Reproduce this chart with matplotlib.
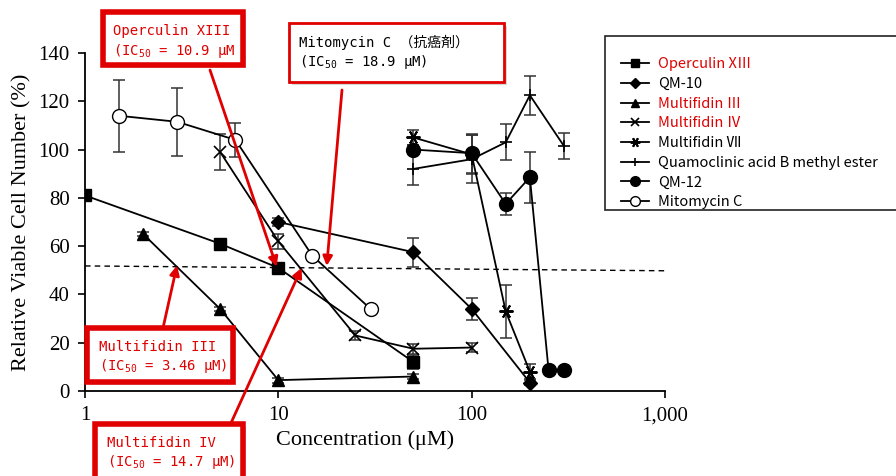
import matplotlib.pyplot as plt
from matplotlib.patches import Rectangle
from matplotlib.lines import Line2D

# concentration (uM) / relative viable cell number (%) / error for each compound
operculin_x = [1, 5, 10, 50]
operculin_y = [81, 61, 51, 12]
operculin_err = [1, 2, 2, 3]

qm10_x = [10, 50, 100, 200]
qm10_y = [70, 57.5, 34, 3.5]
qm10_err = [1.5, 6, 4.5, 1]

mf3_x = [2, 5, 10, 50]
mf3_y = [65, 34, 4.5, 6]
mf3_err = [1, 1, 1, 1]

mf4_x = [5, 10, 25, 50, 100]
mf4_y = [99, 62, 23, 17.5, 18]
mf4_err = [7.5, 3, 2, 2, 2]

mf7_x = [50, 100, 150, 200]
mf7_y = [105, 98, 33, 8]
mf7_err = [3, 8, 11, 3]

quam_x = [50, 100, 150, 200, 300]
quam_y = [92, 96, 103, 122.5, 101.5]
quam_err = [6.5, 10, 7.5, 8, 5.5]

qm12_x = [50, 100, 150, 200, 250, 300]
qm12_y = [100, 98.5, 77.5, 88.5, 8.5, 8.5]
qm12_err = [2, 8, 4.5, 10.5, 1, 1]

mito_x = [1.5, 3, 6, 15, 30]
mito_y = [114, 111.5, 104, 56, 34]
mito_err = [15, 14, 7, 1, 1]

# 50 % reference line
half_x = [1, 1000]
half_y = [51.8, 49.8]

x_ticks = [1, 10, 100, 1000]
x_ticklabels = ['1', '10', '100', '1,000']
y_ticks = [0, 20, 40, 60, 80, 100, 120, 140]

W, H = 896, 476
RED = '#e00000'
serif = ['Liberation Serif', 'DejaVu Serif']
mono = ['DejaVu Sans Mono', 'Noto Sans CJK JP']
sans = ['Noto Sans CJK JP', 'DejaVu Sans']


def fig_frac(px, py):
    # pixel position measured from the top-left corner -> figure fraction
    return px / W, 1 - py / H


fig = plt.figure(figsize=(W / 100, H / 100), dpi=100)
ax = fig.add_axes([85 / W, (H - 391) / H, 580 / W, 338 / H])

series = [
    ('Operculin XⅢ', operculin_x, operculin_y, operculin_err, dict(marker='s', markersize=8.5, mfc='black')),
    ('QM-10', qm10_x, qm10_y, qm10_err, dict(marker='D', markersize=7, mfc='black')),
    ('Multifidin Ⅲ', mf3_x, mf3_y, mf3_err, dict(marker='^', markersize=9, mfc='black')),
    ('Multifidin Ⅳ', mf4_x, mf4_y, mf4_err, dict(marker='x', markersize=8, mew=1.2)),
    ('Multifidin Ⅶ', mf7_x, mf7_y, mf7_err, dict(marker=(6, 2, 30), markersize=10, mew=1.4)),
    ('Quamoclinic acid B methyl ester', quam_x, quam_y, quam_err, dict(marker='+', markersize=9, mew=1.2)),
    ('QM-12', qm12_x, qm12_y, qm12_err, dict(marker='o', markersize=10, mfc='black')),
    ('Mitomycin C', mito_x, mito_y, mito_err, dict(marker='o', markersize=10, mfc='white')),
]
red_labels = {'Operculin XⅢ', 'Multifidin Ⅲ', 'Multifidin Ⅳ'}

handles = []
for label, xs, ys, err, style in series:
    ax.errorbar(xs, ys, yerr=err, fmt='none', ecolor='#333333', elinewidth=1.1, capsize=4, capthick=1.1, zorder=2)
    ax.plot(xs, ys, color='black', lw=1.3, mec='black', zorder=3, **style)
    handles.append(Line2D([], [], color='black', lw=1.3, mec='black',
                          **dict(style, markersize=style['markersize'] * 0.7)))

ax.plot(half_x, half_y, color='black', lw=1, ls=(0, (4, 3)), zorder=1)

ax.set_xscale('log')
ax.set_xlim(1, 1000)
ax.set_ylim(0, 140)
ax.set_xticks(x_ticks)
ax.set_xticklabels(x_ticklabels)
ax.xaxis.set_minor_locator(plt.NullLocator())
ax.set_yticks(y_ticks)
for side in ['top', 'right']:
    ax.spines[side].set_visible(False)
for side in ['left', 'bottom']:
    ax.spines[side].set_linewidth(1.3)
ax.tick_params(direction='out', length=5, width=1.2, labelsize=15, pad=6)
for t in ax.get_xticklabels() + ax.get_yticklabels():
    t.set_family(serif)
ax.set_xlabel('Concentration (μM)', family=serif, fontsize=16, labelpad=4)
ax.xaxis.set_label_coords(0.483, -0.115)
ax.set_ylabel('Relative Viable Cell Number (%)', family=serif, fontsize=16, labelpad=5)

# legend in its own frame on the right
lx0, ly0 = fig_frac(605, 210)
lx1, ly1 = fig_frac(905, 36)
fig.patches.append(Rectangle((lx0, ly0), lx1 - lx0, ly1 - ly0, transform=fig.transFigure,
                             facecolor='white', edgecolor='#222222', lw=1.2, zorder=5))
leg = fig.legend(handles, [s[0] for s in series], loc='upper left',
                 bbox_to_anchor=fig_frac(614, 50), frameon=False,
                 prop=dict(family=sans, size=10.5), handlelength=1.9, handletextpad=0.6,
                 labelspacing=0.39, borderpad=0)
leg.set_zorder(6)
for txt in leg.get_texts():
    if txt.get_text() in red_labels:
        txt.set_color(RED)


def callout(box, lines, color, edge_lw, arrow_from, arrow_to, edge=RED):
    x0, y0, x1, y1 = box
    fx0, fy0 = fig_frac(x0, y1)
    fx1, fy1 = fig_frac(x1, y0)
    sx, sy = 3 / W, 3 / H
    fig.patches.append(Rectangle((fx0 + sx, fy0 - sy), fx1 - fx0, fy1 - fy0, transform=fig.transFigure,
                                 facecolor='#bbbbbb', edgecolor='none', alpha=0.6, zorder=7))
    fig.patches.append(Rectangle((fx0, fy0), fx1 - fx0, fy1 - fy0, transform=fig.transFigure,
                                 facecolor='white', edgecolor=edge, lw=edge_lw, zorder=8))
    for tx, ty, s in lines:
        fig.text(*fig_frac(tx, ty), s, color=color, family=mono, fontsize=10,
                 va='center', ha='left', zorder=9)
    ax.annotate('', xy=arrow_to, xycoords='data',
                xytext=(arrow_from[0], H - arrow_from[1]), textcoords='figure pixels',
                arrowprops=dict(arrowstyle='-|>', color=RED, lw=2, mutation_scale=14, shrinkA=0, shrinkB=0),
                annotation_clip=False, zorder=6)


ic = r'(IC$_\mathregular{50}$ = '
callout((103, 12, 243, 65), [(113, 31, 'Operculin XIII'), (113, 51, ic + '10.9 μM')],
        RED, 4, (210, 70), (9.8, 51.5))
callout((289, 23, 504, 82), [(299, 42, 'Mitomycin C （抗癌剤）'), (299, 62, ic + '18.9 μM)')],
        'black', 2, (342, 90), (17.8, 51.8))
callout((87, 328, 233, 382), [(99, 347, 'Multifidin III'), (99, 366, ic + '3.46 μM)')],
        RED, 4, (163, 328), (2.99, 52))
callout((95, 424, 243, 490), [(107, 443, 'Multifidin IV'), (107, 462, ic + '14.7 μM)')],
        RED, 4, (231, 423), (13.2, 51))

fig.savefig('out.png', dpi=100)
